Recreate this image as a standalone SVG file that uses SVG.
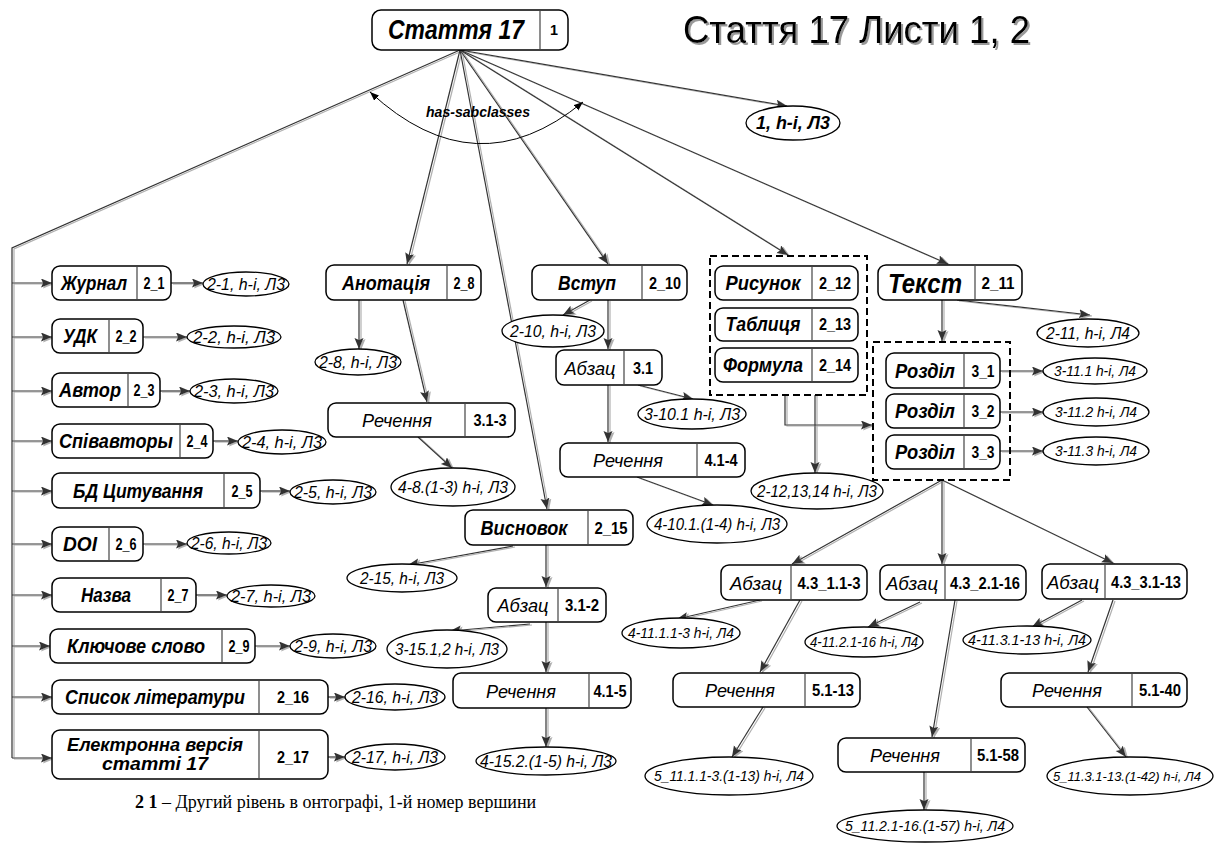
<svg xmlns="http://www.w3.org/2000/svg" width="1221" height="844" viewBox="0 0 1221 844">
<style>
text{font-family:"Liberation Sans",Arial,sans-serif}
.box{fill:#fff;stroke:#000;stroke-width:1.5}
.dv{stroke:#444;stroke-width:1.2}
.ell{fill:#fff;stroke:#000;stroke-width:1.3}
.dash{fill:none;stroke:#000;stroke-width:2;stroke-dasharray:7,4}
.tb{font-weight:bold;font-style:italic;font-size:20px;text-anchor:middle}
.ti{font-style:italic;font-size:19px;text-anchor:middle}
.num{font-weight:bold;font-size:16px;text-anchor:middle}
.el{font-style:italic;font-size:16px;text-anchor:middle}
.el4{font-style:italic;font-size:15px;text-anchor:middle}
.cn{fill:none;stroke:#333;stroke-width:1.2}
</style>
<defs>
<marker id="ar" markerUnits="userSpaceOnUse" markerWidth="12" markerHeight="10" refX="11" refY="4.5" orient="auto">
<path d="M0,0 L11,4.5 L0,9 L2,4.5 z" fill="#333"/>
</marker>
<marker id="sa" markerUnits="userSpaceOnUse" markerWidth="10" markerHeight="8" refX="9" refY="3.5" orient="auto-start-reverse">
<path d="M0,0 L9,3.5 L0,7 z" fill="#000"/>
</marker>
<filter id="sh" x="-5%" y="-5%" width="110%" height="110%">
<feOffset in="SourceAlpha" dx="1.5" dy="1.2" result="o"/>
<feFlood flood-color="#b0b0b0"/>
<feComposite in2="o" operator="in" result="s"/>
<feMerge><feMergeNode in="s"/><feMergeNode in="SourceGraphic"/></feMerge>
</filter>
<filter id="tsh" x="-5%" y="-20%" width="110%" height="140%">
<feOffset in="SourceAlpha" dx="2" dy="2" result="o"/>
<feFlood flood-color="#999"/>
<feComposite in2="o" operator="in" result="s"/>
<feMerge><feMergeNode in="s"/><feMergeNode in="SourceGraphic"/></feMerge>
</filter>
</defs>
<rect width="1221" height="844" fill="#fff"/>

<g id="connectors" filter="url(#sh)">
<path class="cn" d="M460,50 L12,248 V758"/>
<path class="cn" marker-end="url(#ar)" d="M12,283 H52"/>
<path class="cn" marker-end="url(#ar)" d="M12,337 H52"/>
<path class="cn" marker-end="url(#ar)" d="M12,391 H52"/>
<path class="cn" marker-end="url(#ar)" d="M12,441 H52"/>
<path class="cn" marker-end="url(#ar)" d="M12,491 H52"/>
<path class="cn" marker-end="url(#ar)" d="M12,544 H52"/>
<path class="cn" marker-end="url(#ar)" d="M12,595 H52"/>
<path class="cn" marker-end="url(#ar)" d="M12,646 H50"/>
<path class="cn" marker-end="url(#ar)" d="M12,697 H52"/>
<path class="cn" marker-end="url(#ar)" d="M12,758 H52"/>
<path class="cn" marker-end="url(#ar)" d="M171,283 H203"/>
<path class="cn" marker-end="url(#ar)" d="M143,337 H187"/>
<path class="cn" marker-end="url(#ar)" d="M160,391 H190"/>
<path class="cn" marker-end="url(#ar)" d="M213,441 H238"/>
<path class="cn" marker-end="url(#ar)" d="M260,491 H290"/>
<path class="cn" marker-end="url(#ar)" d="M143,544 H187"/>
<path class="cn" marker-end="url(#ar)" d="M196,595 H227"/>
<path class="cn" marker-end="url(#ar)" d="M255,646 H290"/>
<path class="cn" marker-end="url(#ar)" d="M328,697 H345"/>
<path class="cn" marker-end="url(#ar)" d="M328,757 H345"/>
<path class="cn" marker-end="url(#ar)" d="M460,50 L787,106"/>
<path class="cn" marker-end="url(#ar)" d="M460,50 L407,264"/>
<path class="cn" marker-end="url(#ar)" d="M460,50 L547,509"/>
<path class="cn" marker-end="url(#ar)" d="M460,50 L608,264"/>
<path class="cn" marker-end="url(#ar)" d="M460,50 L788,255"/>
<path class="cn" marker-end="url(#ar)" d="M460,50 L948,264"/>
<path class="cn" marker-end="url(#ar)" d="M359,300 V349"/>
<path class="cn" marker-end="url(#ar)" d="M403,300 L427,402"/>
<path class="cn" marker-end="url(#ar)" d="M418,437 L452,468"/>
<path class="cn" marker-end="url(#ar)" d="M513,546 L408,565"/>
<path class="cn" marker-end="url(#ar)" d="M546,545 V587"/>
<path class="cn" marker-end="url(#ar)" d="M530,624 L450,631"/>
<path class="cn" marker-end="url(#ar)" d="M546,622 V672"/>
<path class="cn" marker-end="url(#ar)" d="M546,708 V747"/>
<path class="cn" marker-end="url(#ar)" d="M590,300 L563,315"/>
<path class="cn" marker-end="url(#ar)" d="M608,300 V349"/>
<path class="cn" marker-end="url(#ar)" d="M638,385 L693,399"/>
<path class="cn" marker-end="url(#ar)" d="M608,385 V442"/>
<path class="cn" marker-end="url(#ar)" d="M637,477 L713,505"/>
<path class="cn" marker-end="url(#ar)" d="M785,395 V425 H872"/>
<path class="cn" marker-end="url(#ar)" d="M815,395 V473"/>
<path class="cn" marker-end="url(#ar)" d="M957,300 L1090,315"/>
<path class="cn" marker-end="url(#ar)" d="M942,300 V341"/>
<path class="cn" marker-end="url(#ar)" d="M1000,371 H1043"/>
<path class="cn" marker-end="url(#ar)" d="M1000,412 H1043"/>
<path class="cn" marker-end="url(#ar)" d="M1000,451 H1043"/>
<path class="cn" marker-end="url(#ar)" d="M942,480 L792,564"/>
<path class="cn" marker-end="url(#ar)" d="M942,480 V564"/>
<path class="cn" marker-end="url(#ar)" d="M942,480 L1113,563"/>
<path class="cn" marker-end="url(#ar)" d="M760,600 L677,619"/>
<path class="cn" marker-end="url(#ar)" d="M800,600 L760,672"/>
<path class="cn" marker-end="url(#ar)" d="M763,707 L732,757"/>
<path class="cn" marker-end="url(#ar)" d="M920,602 L868,627"/>
<path class="cn" marker-end="url(#ar)" d="M955,600 L932,737"/>
<path class="cn" marker-end="url(#ar)" d="M924,772 V810"/>
<path class="cn" marker-end="url(#ar)" d="M1082,600 L1032,627"/>
<path class="cn" marker-end="url(#ar)" d="M1113,600 L1088,672"/>
<path class="cn" marker-end="url(#ar)" d="M1087,707 L1126,757"/>
</g>

<g id="has-sabclasses">
<path d="M370,92 Q476,190 583,102" fill="none" stroke="#000" stroke-width="1" marker-start="url(#sa)" marker-end="url(#sa)"/>
<text x="478" y="117" style="font-weight:bold;font-style:italic;font-size:15px;text-anchor:middle" textLength="104" lengthAdjust="spacingAndGlyphs">has-sabclasses</text>
</g>

<g id="title" filter="url(#tsh)">
<text x="683" y="43" style="font-size:38px" textLength="347" lengthAdjust="spacingAndGlyphs">Стаття 17 Листи 1, 2</text>
</g>

<g id="n1">
<rect class="box" x="372" y="10" width="196" height="40" rx="9"/>
<line class="dv" x1="540" y1="10" x2="540" y2="50"/>
<text x="456" y="39" style="font-weight:bold;font-style:italic;font-size:27px;text-anchor:middle" textLength="136" lengthAdjust="spacingAndGlyphs">Стаття 17</text>
<text class="num" x="554" y="35" style="font-size:14px" textLength="8" lengthAdjust="spacingAndGlyphs">1</text>
</g>
<g id="e1">
<ellipse class="ell" cx="793" cy="123" rx="47" ry="17"/>
<text x="793" y="129" style="font-weight:bold;font-style:italic;font-size:18px;text-anchor:middle" textLength="74" lengthAdjust="spacingAndGlyphs">1, h-i, Л3</text>
</g>

<g id="n2_1"><rect class="box" x="52" y="266" width="119" height="34" rx="8"/><line class="dv" x1="137" y1="266" x2="137" y2="300"/><text class="tb" x="94" y="290" textLength="66" lengthAdjust="spacingAndGlyphs">Журнал</text><text class="num" x="154" y="289" textLength="21" lengthAdjust="spacingAndGlyphs">2_1</text></g>
<g id="e2_1"><ellipse class="ell" cx="246" cy="284" rx="43" ry="12"/><text class="el" x="246" y="290" textLength="78" lengthAdjust="spacingAndGlyphs">2-1, h-i, Л3</text></g>

<g id="n2_2"><rect class="box" x="52" y="319" width="91" height="34" rx="8"/><line class="dv" x1="109" y1="319" x2="109" y2="353"/><text class="tb" x="80" y="343" textLength="34" lengthAdjust="spacingAndGlyphs">УДК</text><text class="num" x="126" y="342" textLength="21" lengthAdjust="spacingAndGlyphs">2_2</text></g>
<g id="e2_2"><ellipse class="ell" cx="234" cy="337" rx="47" ry="11"/><text class="el" x="234" y="343" textLength="82" lengthAdjust="spacingAndGlyphs">2-2, h-i, Л3</text></g>

<g id="n2_3"><rect class="box" x="52" y="373" width="108" height="34" rx="8"/><line class="dv" x1="128" y1="373" x2="128" y2="407"/><text class="tb" x="90" y="397" textLength="62" lengthAdjust="spacingAndGlyphs">Автор</text><text class="num" x="144" y="396" textLength="21" lengthAdjust="spacingAndGlyphs">2_3</text></g>
<g id="e2_3"><ellipse class="ell" cx="234" cy="391" rx="44" ry="12"/><text class="el" x="234" y="397" textLength="80" lengthAdjust="spacingAndGlyphs">2-3, h-i, Л3</text></g>

<g id="n2_4"><rect class="box" x="52" y="424" width="161" height="34" rx="8"/><line class="dv" x1="180" y1="424" x2="180" y2="458"/><text class="tb" x="116" y="448" textLength="114" lengthAdjust="spacingAndGlyphs">Співавторы</text><text class="num" x="197" y="447" textLength="21" lengthAdjust="spacingAndGlyphs">2_4</text></g>
<g id="e2_4"><ellipse class="ell" cx="282" cy="442" rx="44" ry="12"/><text class="el" x="282" y="448" textLength="80" lengthAdjust="spacingAndGlyphs">2-4, h-i, Л3</text></g>

<g id="n2_5"><rect class="box" x="52" y="473" width="208" height="35" rx="8"/><line class="dv" x1="224" y1="473" x2="224" y2="508"/><text class="tb" x="138" y="498" textLength="130" lengthAdjust="spacingAndGlyphs">БД Цитування</text><text class="num" x="242" y="497" textLength="21" lengthAdjust="spacingAndGlyphs">2_5</text></g>
<g id="e2_5"><ellipse class="ell" cx="333" cy="492" rx="43" ry="12"/><text class="el" x="333" y="498" textLength="78" lengthAdjust="spacingAndGlyphs">2-5, h-i, Л3</text></g>

<g id="n2_6"><rect class="box" x="52" y="527" width="91" height="34" rx="8"/><line class="dv" x1="109" y1="527" x2="109" y2="561"/><text class="tb" x="80" y="551" textLength="34" lengthAdjust="spacingAndGlyphs">DOI</text><text class="num" x="126" y="550" textLength="21" lengthAdjust="spacingAndGlyphs">2_6</text></g>
<g id="e2_6"><ellipse class="ell" cx="229" cy="543" rx="42" ry="11"/><text class="el" x="229" y="549" textLength="76" lengthAdjust="spacingAndGlyphs">2-6, h-i, Л3</text></g>

<g id="n2_7"><rect class="box" x="52" y="578" width="144" height="34" rx="8"/><line class="dv" x1="161" y1="578" x2="161" y2="612"/><text class="tb" x="106" y="602" textLength="50" lengthAdjust="spacingAndGlyphs">Назва</text><text class="num" x="178" y="601" textLength="21" lengthAdjust="spacingAndGlyphs">2_7</text></g>
<g id="e2_7"><ellipse class="ell" cx="271" cy="596" rx="44" ry="11"/><text class="el" x="271" y="602" textLength="80" lengthAdjust="spacingAndGlyphs">2-7, h-i, Л3</text></g>

<g id="n2_9"><rect class="box" x="50" y="629" width="205" height="34" rx="8"/><line class="dv" x1="222" y1="629" x2="222" y2="663"/><text class="tb" x="136" y="653" textLength="138" lengthAdjust="spacingAndGlyphs">Ключове слово</text><text class="num" x="239" y="652" textLength="21" lengthAdjust="spacingAndGlyphs">2_9</text></g>
<g id="e2_9"><ellipse class="ell" cx="333" cy="646" rx="43" ry="12"/><text class="el" x="333" y="652" textLength="78" lengthAdjust="spacingAndGlyphs">2-9, h-i, Л3</text></g>

<g id="n2_16"><rect class="box" x="52" y="680" width="276" height="34" rx="8"/><line class="dv" x1="259" y1="680" x2="259" y2="714"/><text class="tb" x="155" y="704" textLength="180" lengthAdjust="spacingAndGlyphs">Список літератури</text><text class="num" x="293" y="703" textLength="32" lengthAdjust="spacingAndGlyphs">2_16</text></g>
<g id="e2_16"><ellipse class="ell" cx="395" cy="697" rx="50" ry="13"/><text class="el" x="395" y="703" textLength="86" lengthAdjust="spacingAndGlyphs">2-16, h-i, Л3</text></g>

<g id="n2_17"><rect class="box" x="52" y="730" width="276" height="49" rx="8"/><line class="dv" x1="259" y1="730" x2="259" y2="779"/><text class="tb" x="155" y="751" style="font-size:18px" textLength="176" lengthAdjust="spacingAndGlyphs">Електронна версія</text><text class="tb" x="155" y="770" style="font-size:18px" textLength="106" lengthAdjust="spacingAndGlyphs">статті 17</text><text class="num" x="293" y="763" textLength="32" lengthAdjust="spacingAndGlyphs">2_17</text></g>
<g id="e2_17"><ellipse class="ell" cx="395" cy="757" rx="50" ry="13"/><text class="el" x="395" y="763" textLength="86" lengthAdjust="spacingAndGlyphs">2-17, h-i, Л3</text></g>

<g id="n2_8"><rect class="box" x="326" y="265" width="155" height="35" rx="8"/><line class="dv" x1="447" y1="265" x2="447" y2="300"/><text class="tb" x="386" y="290" textLength="88" lengthAdjust="spacingAndGlyphs">Анотація</text><text class="num" x="464" y="289" textLength="21" lengthAdjust="spacingAndGlyphs">2_8</text></g>
<g id="e2_8"><ellipse class="ell" cx="358" cy="362" rx="43" ry="13"/><text class="el" x="358" y="368" textLength="78" lengthAdjust="spacingAndGlyphs">2-8, h-i, Л3</text></g>
<g id="n3_1_3"><rect class="box" x="328" y="403" width="187" height="34" rx="8"/><line class="dv" x1="465" y1="403" x2="465" y2="437"/><text class="ti" x="397" y="427" textLength="70" lengthAdjust="spacingAndGlyphs">Речення</text><text class="num" x="490" y="426" textLength="33" lengthAdjust="spacingAndGlyphs">3.1-3</text></g>
<g id="e4_8"><ellipse class="ell" cx="453" cy="487" rx="62" ry="19"/><text class="el" x="453" y="493" textLength="110" lengthAdjust="spacingAndGlyphs">4-8.(1-3) h-i, Л3</text></g>

<g id="n2_15"><rect class="box" x="465" y="510" width="168" height="35" rx="8"/><line class="dv" x1="588" y1="510" x2="588" y2="545"/><text class="tb" x="524" y="535" textLength="87" lengthAdjust="spacingAndGlyphs">Висновок</text><text class="num" x="611" y="534" textLength="33" lengthAdjust="spacingAndGlyphs">2_15</text></g>
<g id="e2_15"><ellipse class="ell" cx="402" cy="578" rx="55" ry="14"/><text class="el" x="402" y="584" textLength="84" lengthAdjust="spacingAndGlyphs">2-15, h-i, Л3</text></g>
<g id="n3_1_2"><rect class="box" x="488" y="588" width="118" height="34" rx="8"/><line class="dv" x1="558" y1="588" x2="558" y2="622"/><text class="ti" x="523" y="612" textLength="51" lengthAdjust="spacingAndGlyphs">Абзац</text><text class="num" x="582" y="611" textLength="34" lengthAdjust="spacingAndGlyphs">3.1-2</text></g>
<g id="e3_15"><ellipse class="ell" cx="447" cy="649" rx="60" ry="19"/><text class="el" x="447" y="655" textLength="104" lengthAdjust="spacingAndGlyphs">3-15.1,2 h-i, Л3</text></g>
<g id="n4_1_5"><rect class="box" x="453" y="673" width="178" height="35" rx="8"/><line class="dv" x1="589" y1="673" x2="589" y2="708"/><text class="ti" x="521" y="698" textLength="70" lengthAdjust="spacingAndGlyphs">Речення</text><text class="num" x="610" y="697" textLength="33" lengthAdjust="spacingAndGlyphs">4.1-5</text></g>
<g id="e4_15"><ellipse class="ell" cx="546" cy="761" rx="70" ry="14"/><text class="el" x="546" y="767" textLength="132" lengthAdjust="spacingAndGlyphs">4-15.2.(1-5) h-i, Л3</text></g>

<g id="n2_10"><rect class="box" x="532" y="265" width="155" height="35" rx="8"/><line class="dv" x1="642" y1="265" x2="642" y2="300"/><text class="tb" x="587" y="290" textLength="58" lengthAdjust="spacingAndGlyphs">Вступ</text><text class="num" x="665" y="289" textLength="32" lengthAdjust="spacingAndGlyphs">2_10</text></g>
<g id="e2_10"><ellipse class="ell" cx="553" cy="331" rx="51" ry="16"/><text class="el" x="553" y="337" textLength="86" lengthAdjust="spacingAndGlyphs">2-10, h-i, Л3</text></g>
<g id="n3_1"><rect class="box" x="556" y="350" width="106" height="35" rx="8"/><line class="dv" x1="624" y1="350" x2="624" y2="385"/><text class="ti" x="590" y="375" textLength="51" lengthAdjust="spacingAndGlyphs">Абзац</text><text class="num" x="643" y="374" textLength="20" lengthAdjust="spacingAndGlyphs">3.1</text></g>
<g id="e3_10"><ellipse class="ell" cx="692" cy="414" rx="54" ry="15"/><text class="el" x="692" y="420" textLength="96" lengthAdjust="spacingAndGlyphs">3-10.1 h-i, Л3</text></g>
<g id="n4_1_4"><rect class="box" x="560" y="443" width="185" height="34" rx="8"/><line class="dv" x1="697" y1="443" x2="697" y2="477"/><text class="ti" x="628" y="467" textLength="70" lengthAdjust="spacingAndGlyphs">Речення</text><text class="num" x="721" y="466" textLength="33" lengthAdjust="spacingAndGlyphs">4.1-4</text></g>
<g id="e4_10"><ellipse class="ell" cx="717" cy="524" rx="70" ry="19"/><text class="el" x="717" y="530" textLength="126" lengthAdjust="spacingAndGlyphs">4-10.1.(1-4) h-i, Л3</text></g>

<g id="g_media"><rect class="dash" x="710" y="256" width="157" height="139"/></g>
<g id="n2_12"><rect class="box" x="715" y="266" width="143" height="34" rx="8"/><line class="dv" x1="812" y1="266" x2="812" y2="300"/><text class="tb" x="763" y="290" textLength="75" lengthAdjust="spacingAndGlyphs">Рисунок</text><text class="num" x="835" y="289" textLength="32" lengthAdjust="spacingAndGlyphs">2_12</text></g>
<g id="n2_13"><rect class="box" x="715" y="308" width="143" height="33" rx="8"/><line class="dv" x1="812" y1="308" x2="812" y2="341"/><text class="tb" x="763" y="331" textLength="75" lengthAdjust="spacingAndGlyphs">Таблиця</text><text class="num" x="835" y="330" textLength="32" lengthAdjust="spacingAndGlyphs">2_13</text></g>
<g id="n2_14"><rect class="box" x="715" y="348" width="143" height="34" rx="8"/><line class="dv" x1="812" y1="348" x2="812" y2="382"/><text class="tb" x="763" y="372" textLength="80" lengthAdjust="spacingAndGlyphs">Формула</text><text class="num" x="835" y="371" textLength="32" lengthAdjust="spacingAndGlyphs">2_14</text></g>
<g id="e2_12"><ellipse class="ell" cx="817" cy="491" rx="66" ry="18"/><text class="el" x="817" y="497" textLength="120" lengthAdjust="spacingAndGlyphs">2-12,13,14 h-i, Л3</text></g>

<g id="n2_11"><rect class="box" x="878" y="265" width="144" height="35" rx="8"/><line class="dv" x1="975" y1="265" x2="975" y2="300"/><text x="925" y="293" style="font-weight:bold;font-style:italic;font-size:28px;text-anchor:middle" textLength="74" lengthAdjust="spacingAndGlyphs">Текст</text><text class="num" x="998" y="289" textLength="33" lengthAdjust="spacingAndGlyphs">2_11</text></g>
<g id="e2_11"><ellipse class="ell" cx="1088" cy="333" rx="51" ry="14"/><text class="el" x="1088" y="339" textLength="84" lengthAdjust="spacingAndGlyphs">2-11, h-i, Л4</text></g>
<g id="g_sections"><rect class="dash" x="873" y="342" width="137" height="138"/></g>
<g id="n3_1s"><rect class="box" x="886" y="353" width="114" height="35" rx="8"/><line class="dv" x1="964" y1="353" x2="964" y2="388"/><text class="tb" x="925" y="378" textLength="60" lengthAdjust="spacingAndGlyphs">Розділ</text><text class="num" x="983" y="377" textLength="23" lengthAdjust="spacingAndGlyphs">3_1</text></g>
<g id="n3_2s"><rect class="box" x="886" y="394" width="114" height="34" rx="8"/><line class="dv" x1="964" y1="394" x2="964" y2="428"/><text class="tb" x="925" y="418" textLength="60" lengthAdjust="spacingAndGlyphs">Розділ</text><text class="num" x="983" y="417" textLength="23" lengthAdjust="spacingAndGlyphs">3_2</text></g>
<g id="n3_3s"><rect class="box" x="886" y="435" width="114" height="34" rx="8"/><line class="dv" x1="964" y1="435" x2="964" y2="469"/><text class="tb" x="925" y="459" textLength="60" lengthAdjust="spacingAndGlyphs">Розділ</text><text class="num" x="983" y="458" textLength="23" lengthAdjust="spacingAndGlyphs">3_3</text></g>
<g id="e3_11_1"><ellipse class="ell" cx="1095" cy="371" rx="52" ry="13"/><text class="el4" x="1095" y="376" textLength="82" lengthAdjust="spacingAndGlyphs">3-11.1 h-i, Л4</text></g>
<g id="e3_11_2"><ellipse class="ell" cx="1096" cy="412" rx="53" ry="14"/><text class="el4" x="1096" y="417" textLength="82" lengthAdjust="spacingAndGlyphs">3-11.2 h-i, Л4</text></g>
<g id="e3_11_3"><ellipse class="ell" cx="1096" cy="451" rx="53" ry="14"/><text class="el4" x="1096" y="456" textLength="82" lengthAdjust="spacingAndGlyphs">3-11.3 h-i, Л4</text></g>

<g id="n4_3_1"><rect class="box" x="721" y="565" width="146" height="35" rx="8"/><line class="dv" x1="791" y1="565" x2="791" y2="600"/><text class="ti" x="756" y="590" textLength="52" lengthAdjust="spacingAndGlyphs">Абзац</text><text class="num" x="829" y="589" textLength="63" lengthAdjust="spacingAndGlyphs">4.3_1.1-3</text></g>
<g id="e4_11_1"><ellipse class="ell" cx="681" cy="633" rx="59" ry="15"/><text class="el4" x="681" y="638" textLength="106" lengthAdjust="spacingAndGlyphs">4-11.1.1-3 h-i, Л4</text></g>
<g id="n5_1_13"><rect class="box" x="673" y="673" width="187" height="34" rx="8"/><line class="dv" x1="805" y1="673" x2="805" y2="707"/><text class="ti" x="740" y="697" textLength="70" lengthAdjust="spacingAndGlyphs">Речення</text><text class="num" x="833" y="696" textLength="42" lengthAdjust="spacingAndGlyphs">5.1-13</text></g>
<g id="e5_11_1"><ellipse class="ell" cx="729" cy="776" rx="84" ry="19"/><text class="el4" x="729" y="781" textLength="150" lengthAdjust="spacingAndGlyphs">5_11.1.1-3.(1-13) h-i, Л4</text></g>

<g id="n4_3_2"><rect class="box" x="880" y="565" width="146" height="35" rx="8"/><line class="dv" x1="945" y1="565" x2="945" y2="600"/><text class="ti" x="912" y="590" textLength="52" lengthAdjust="spacingAndGlyphs">Абзац</text><text class="num" x="985" y="589" textLength="70" lengthAdjust="spacingAndGlyphs">4.3_2.1-16</text></g>
<g id="e4_11_2"><ellipse class="ell" cx="864" cy="642" rx="59" ry="15"/><text class="el4" x="864" y="647" textLength="108" lengthAdjust="spacingAndGlyphs">4-11.2.1-16 h-i, Л4</text></g>
<g id="n5_1_58"><rect class="box" x="838" y="738" width="187" height="34" rx="8"/><line class="dv" x1="971" y1="738" x2="971" y2="772"/><text class="ti" x="905" y="762" textLength="70" lengthAdjust="spacingAndGlyphs">Речення</text><text class="num" x="998" y="761" textLength="42" lengthAdjust="spacingAndGlyphs">5.1-58</text></g>
<g id="e5_11_2"><ellipse class="ell" cx="925" cy="826" rx="88" ry="16"/><text class="el4" x="925" y="831" textLength="160" lengthAdjust="spacingAndGlyphs">5_11.2.1-16.(1-57) h-i, Л4</text></g>

<g id="n4_3_3"><rect class="box" x="1042" y="564" width="145" height="35" rx="8"/><line class="dv" x1="1105" y1="564" x2="1105" y2="599"/><text class="ti" x="1073" y="589" textLength="52" lengthAdjust="spacingAndGlyphs">Абзац</text><text class="num" x="1146" y="588" textLength="70" lengthAdjust="spacingAndGlyphs">4.3_3.1-13</text></g>
<g id="e4_11_3"><ellipse class="ell" cx="1027" cy="640" rx="64" ry="14"/><text class="el4" x="1027" y="645" textLength="118" lengthAdjust="spacingAndGlyphs">4-11.3.1-13 h-i, Л4</text></g>
<g id="n5_1_40"><rect class="box" x="1001" y="673" width="186" height="34" rx="8"/><line class="dv" x1="1132" y1="673" x2="1132" y2="707"/><text class="ti" x="1067" y="697" textLength="70" lengthAdjust="spacingAndGlyphs">Речення</text><text class="num" x="1160" y="696" textLength="42" lengthAdjust="spacingAndGlyphs">5.1-40</text></g>
<g id="e5_11_3"><ellipse class="ell" cx="1130" cy="776" rx="83" ry="19"/><text class="el4" x="1127" y="781" style="font-size:13px" textLength="148" lengthAdjust="spacingAndGlyphs">5_11.3.1-13.(1-42) h-i, Л4</text></g>

<g id="footer">
<text x="135" y="808" style="font-family:'Liberation Serif','Times New Roman',serif;font-size:18px"><tspan font-weight="bold">2 1</tspan> – Другий рівень в онтографі, 1-й номер вершини</text>
</g>
</svg>
